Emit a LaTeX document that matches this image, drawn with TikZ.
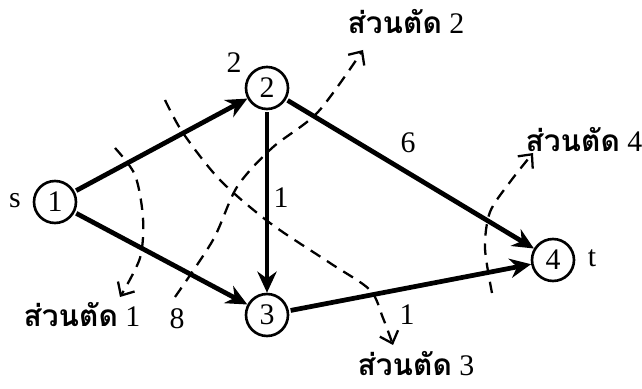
\documentclass[tikz,border=0pt]{standalone}
\usepackage{fontspec}
\setmainfont{Liberation Serif}
\newfontfamily\thaifont[Script=Thai]{Loma}
\usetikzlibrary{arrows.meta}
\tikzset{
  vertex/.style={circle, draw, line width=1.5pt, minimum size=0.84cm, inner sep=0pt, font=\fontsize{17}{19}\selectfont},
  edge/.style={line width=2.7pt, shorten <=1pt, -{Stealth[length=12pt,width=11pt]}},
  cutline/.style={line width=1.3pt, dash pattern=on 6.5pt off 4.5pt, -{Straight Barb[length=6pt,width=11pt]}},
  weight/.style={font=\fontsize{17}{19}\selectfont},
  cutlabel/.style={font=\fontsize{17}{19}\selectfont}
}
\newcommand{\cutname}[1]{{\thaifont\bfseries ส่วนตัด} #1}

\begin{document}
\begin{tikzpicture}
\useasboundingbox (0,0) rectangle (12.84,7.76);

% vertici
\node[vertex] (n1) at (1.1,3.72) {1};
\node[vertex] (n2) at (5.34,6.0) {2};
\node[vertex] (n3) at (5.34,1.46) {3};
\node[vertex] (n4) at (11.06,2.56) {4};
\node[weight] (s) at (0.3,3.74) {s};
\node[weight] (t) at (11.84,2.6) {t};

% archi
\draw[edge] (n1) -- (n2);
\draw[edge] (n1) -- (n3);
\draw[edge] (n2) -- (n3);
\draw[edge] (n2) -- (n4);
\draw[edge] (n3) -- (n4);

% capacita
\node[weight] (w12) at (4.68,6.5) {2};
\node[weight] (w13) at (3.54,1.38) {8};
\node[weight] (w23) at (5.62,3.8) {1};
\node[weight] (w24) at (8.16,4.9) {6};
\node[weight] (w34) at (8.14,1.46) {1};

% tagli
\draw[cutline] plot[smooth] coordinates {(2.3,4.8) (2.7,4.26) (2.86,3.4) (2.8,2.6) (2.4,1.82)};
\draw[cutline] plot[smooth] coordinates {(3.5,1.82) (4.26,2.96) (4.74,4.02) (5.44,4.8) (6.36,5.52) (7.26,6.76)};
\draw[cutline] plot[smooth] coordinates {(3.3,5.76) (3.66,5.1) (4.4,4.16) (5.4,3.3) (6.6,2.5) (7.4,1.96) (7.66,1.4) (7.86,0.86)};
\draw[cutline] plot[smooth] coordinates {(9.84,1.9) (9.7,2.8) (9.8,3.52) (10.2,4.12) (10.66,4.7)};

\node[cutlabel] (c1) at (1.64,1.46) {\cutname{1}};
\node[cutlabel] (c2) at (8.12,7.32) {\cutname{2}};
\node[cutlabel] (c3) at (8.32,0.48) {\cutname{3}};
\node[cutlabel] (c4) at (11.68,4.96) {\cutname{4}};
\end{tikzpicture}
\end{document}
